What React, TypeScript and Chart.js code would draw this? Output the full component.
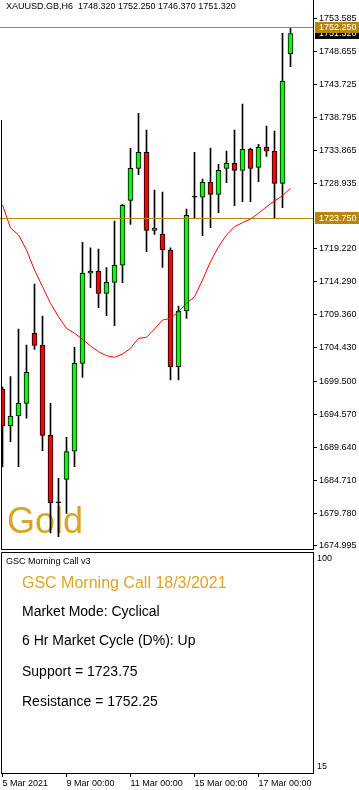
import React, { useEffect, useRef } from "react";
import { Chart, registerables } from "chart.js";

Chart.register(...registerables);

const FONT = "'Liberation Sans', Arial, sans-serif";

// ---- data ----
const symbolName = "XAUUSD.GB,H6";
const watermark = "Gold";
const opens = [1698.31, 1692.8, 1694.29, 1696.18, 1706.62, 1704.83, 1691.41, 1681.35, 1684.85, 1689.03, 1702.14, 1715.57, 1715.91, 1712.58, 1714.22, 1716.76, 1726.45, 1731.22, 1733.61, 1721.97, 1721.4, 1719.04, 1701.64, 1709.94, 1726.9, 1726.9, 1729.13, 1727.34, 1731.22, 1731.97, 1730.92, 1734.05, 1731.37, 1734.35, 1733.76, 1728.98, 1748.32];
const highs = [1698.6, 1700.15, 1707.26, 1704.87, 1713.97, 1709.2, 1696.18, 1684.99, 1691.11, 1704.53, 1720.19, 1719.38, 1719.19, 1716.4, 1723.36, 1725.85, 1734.2, 1739.42, 1736.93, 1727.98, 1727.69, 1719.38, 1710.69, 1725.15, 1733.61, 1729.62, 1734.25, 1731.82, 1733.8, 1736.93, 1740.81, 1734.25, 1734.8, 1737.53, 1736.78, 1751.35, 1752.25];
const lows = [1686.68, 1690.46, 1686.73, 1693.95, 1704.23, 1689.12, 1676.84, 1676.29, 1679.78, 1686.73, 1700.06, 1713.42, 1710.44, 1709.24, 1707.75, 1714.16, 1722.87, 1730.27, 1718.79, 1721.38, 1716.46, 1699.66, 1699.66, 1708.85, 1723.85, 1721.17, 1722.37, 1724.6, 1729.07, 1725.64, 1726.24, 1726.24, 1729.22, 1733.01, 1723.81, 1725.35, 1746.37];
const closes = [1692.8, 1694.29, 1696.18, 1700.8, 1704.83, 1691.41, 1681.36, 1681.35, 1688.97, 1702.14, 1715.57, 1715.91, 1712.58, 1714.22, 1716.76, 1725.7, 1731.22, 1733.61, 1721.97, 1722.31, 1719.04, 1701.64, 1709.94, 1724.21, 1726.9, 1729.13, 1727.34, 1730.92, 1731.97, 1730.92, 1734.05, 1731.22, 1734.35, 1733.76, 1728.98, 1744.19, 1751.32];
const movingAverage = [1725.75, 1722.32, 1721.28, 1719.04, 1716.06, 1713.57, 1711.09, 1709.09, 1707.36, 1706.62, 1705.73, 1704.73, 1703.88, 1703.28, 1703.04, 1703.53, 1704.38, 1705.87, 1706.02, 1707.26, 1708.6, 1708.85, 1709.84, 1711.09, 1712.07, 1714.57, 1717.3, 1719.53, 1721.28, 1722.51, 1723.11, 1723.66, 1724.51, 1725.49, 1726.35, 1727.14, 1728.24];

const supportLevel = 1723.75;
const resistanceLevel = 1752.25;

const priceTicks = [1753.585, 1748.655, 1743.725, 1738.795, 1733.865, 1728.935, 1719.22, 1714.29, 1709.36, 1704.43, 1699.5, 1694.57, 1689.64, 1684.71, 1679.78, 1674.995];
const priceMin = 1674.385;
const priceMax = 1756.314;

const timeTickIndex = [0, 8, 16, 24, 32];
const timeTickLabels = ["5 Mar 2021", "9 Mar 00:00", "11 Mar 00:00", "15 Mar 00:00", "17 Mar 00:00"];
const barMin = -0.1875;
const barMax = barMin + 39;

const indicatorTicks = [100, 15];
const indicatorMin = 12.55;
const indicatorMax = 102.66;

const panelName = "GSC Morning Call v3";
const panelTitle = "GSC Morning Call 18/3/2021";
const panelLines = [
  "Market Mode: Cyclical",
  "6 Hr Market Cycle (D%): Up",
  "Support = " + supportLevel.toFixed(2),
  "Resistance = " + resistanceLevel.toFixed(2),
];

const GOLD_LINE = "#B8860B";
const GOLD_TEXT = "#DAA520";

export default function App() {
  const topRef = useRef<HTMLCanvasElement | null>(null);
  const botRef = useRef<HTMLCanvasElement | null>(null);

  useEffect(() => {
    document.body.style.margin = "0";
    if (!topRef.current || !botRef.current) return;

    const last = opens.length - 1;
    const header = `${symbolName}  ${opens[last].toFixed(3)} ${highs[last].toFixed(3)} ${lows[last].toFixed(3)} ${closes[last].toFixed(3)}`;

    const topPlugin = {
      id: "topDeco",
      beforeDatasetsDraw(chart: any) {
        const ctx = chart.ctx;
        ctx.save();
        ctx.font = `36px ${FONT}`;
        ctx.fillStyle = GOLD_TEXT;
        ctx.textAlign = "left";
        ctx.textBaseline = "alphabetic";
        ctx.fillText(watermark, 7, 533);
        ctx.restore();
      },
      afterDatasetsDraw(chart: any) {
        const ctx = chart.ctx;
        const a = chart.chartArea;
        const ys = chart.scales.y;
        ctx.save();
        ctx.strokeStyle = GOLD_LINE;
        ctx.lineWidth = 1;
        [supportLevel, resistanceLevel].forEach((v) => {
          const py = Math.round(ys.getPixelForValue(v)) + 0.5;
          ctx.beginPath();
          ctx.moveTo(a.left - 1, py);
          ctx.lineTo(a.right, py);
          ctx.stroke();
        });
        ctx.strokeStyle = "#000";
        const bottom = Math.floor(a.bottom) + 0.5;
        ctx.beginPath();
        ctx.moveTo(1.5, 120);
        ctx.lineTo(1.5, bottom);
        ctx.lineTo(a.right, bottom);
        ctx.stroke();
        ctx.restore();
      },
      afterDraw(chart: any) {
        const ctx = chart.ctx;
        const a = chart.chartArea;
        const ys = chart.scales.y;
        ctx.save();
        ctx.font = `9px ${FONT}`;
        ctx.fillStyle = "#000";
        ctx.textAlign = "left";
        ctx.textBaseline = "middle";
        ctx.fillText(header, 6, 7);

        const box = (v: number, bg: string, h: number) => {
          const py = ys.getPixelForValue(v);
          ctx.fillStyle = bg;
          ctx.fillRect(a.right + 2, Math.round(py - h / 2), 359 - a.right - 2, h);
          ctx.fillStyle = "#fff";
          ctx.fillText(v.toFixed(3), a.right + 6, py);
        };
        box(closes[last], "#000", 11);
        box(resistanceLevel, GOLD_LINE, 11);
        box(supportLevel, GOLD_LINE, 12);
        ctx.restore();
      },
    };

    const topChart = new Chart(topRef.current, {
      type: "bar",
      data: {
        datasets: [
          {
            type: "line",
            label: "MA",
            data: movingAverage.map((v, i) => ({ x: i, y: v })),
            borderColor: "#ff0000",
            borderWidth: 1,
            pointRadius: 0,
            tension: 0,
          } as any,
          {
            type: "bar",
            label: "body",
            data: opens.map((o, i) => ({ x: i, y: [o, closes[i]] })),
            backgroundColor: opens.map((o, i) => (closes[i] > o ? "#00ff00" : closes[i] < o ? "#ff0000" : "#000000")),
            borderColor: "#000",
            borderWidth: 1,
            borderSkipped: false,
            barThickness: 5,
            minBarLength: 1,
            grouped: false,
          } as any,
          {
            type: "bar",
            label: "wick",
            data: lows.map((l, i) => ({ x: i, y: [l, highs[i]] })),
            backgroundColor: "#000",
            borderWidth: 0,
            barThickness: 1,
            grouped: false,
          } as any,
        ],
      },
      options: {
        responsive: false,
        animation: false,
        devicePixelRatio: 1,
        events: [],
        layout: { padding: { left: 1, top: 0, right: 0, bottom: 2.5 } },
        plugins: { legend: { display: false }, tooltip: { enabled: false } },
        scales: {
          x: { type: "linear", min: barMin, max: barMax, display: false, offset: false },
          y: {
            type: "linear",
            position: "right",
            min: priceMin,
            max: priceMax,
            afterBuildTicks: (s: any) => {
              s.ticks = priceTicks.map((v) => ({ value: v }));
            },
            afterFit: (s: any) => {
              s.width = 46;
              s.paddingTop = 0;
              s.paddingBottom = 0;
            },
            border: { display: true, color: "#000", width: 1 },
            grid: { drawOnChartArea: false, drawTicks: true, tickLength: 4, color: "#000" },
            ticks: {
              padding: 2,
              color: "#000",
              autoSkip: false,
              font: { family: FONT, size: 9 },
              callback: (v: any) => Number(v).toFixed(3),
            },
          },
        },
      } as any,
      plugins: [topPlugin as any],
    });

    const botPlugin = {
      id: "botDeco",
      afterDraw(chart: any) {
        const ctx = chart.ctx;
        const a = chart.chartArea;
        ctx.save();
        ctx.strokeStyle = "#000";
        ctx.lineWidth = 1;
        const t = Math.floor(a.top) + 0.5;
        ctx.beginPath();
        ctx.moveTo(a.right, t);
        ctx.lineTo(1.5, t);
        ctx.lineTo(1.5, a.bottom);
        ctx.stroke();

        ctx.textAlign = "left";
        ctx.textBaseline = "alphabetic";
        ctx.fillStyle = "#000";
        ctx.font = `9px ${FONT}`;
        ctx.fillText(panelName, 6, 13);

        ctx.font = `16px ${FONT}`;
        ctx.fillStyle = GOLD_TEXT;
        ctx.fillText(panelTitle, 22, 37);

        ctx.font = `14px ${FONT}`;
        ctx.fillStyle = "#000";
        const baselines = [65, 94, 124.5, 155];
        panelLines.forEach((s, i) => ctx.fillText(s, 22, baselines[i]));
        ctx.restore();
      },
    };

    const botChart = new Chart(botRef.current, {
      type: "line",
      data: { datasets: [{ label: "indicator", data: [] as any[], pointRadius: 0 }] },
      options: {
        responsive: false,
        animation: false,
        devicePixelRatio: 1,
        events: [],
        layout: { padding: { left: 1, top: 1.5, right: 0, bottom: 0 } },
        plugins: { legend: { display: false }, tooltip: { enabled: false } },
        scales: {
          x: {
            type: "linear",
            position: "bottom",
            min: barMin,
            max: barMax,
            offset: false,
            afterBuildTicks: (s: any) => {
              s.ticks = timeTickIndex.map((v) => ({ value: v }));
            },
            afterFit: (s: any) => {
              s.height = 17;
              s.paddingLeft = 0;
              s.paddingRight = 0;
            },
            border: { display: true, color: "#000", width: 1 },
            grid: { drawOnChartArea: false, drawTicks: true, tickLength: 4, color: "#000" },
            ticks: {
              align: "start",
              padding: 1,
              maxRotation: 0,
              autoSkip: false,
              color: "#000",
              font: { family: FONT, size: 9 },
              callback: (v: any) => {
                const i = timeTickIndex.indexOf(Number(v));
                return i >= 0 ? timeTickLabels[i] : "";
              },
            },
          },
          y: {
            type: "linear",
            position: "right",
            min: indicatorMin,
            max: indicatorMax,
            afterBuildTicks: (s: any) => {
              s.ticks = indicatorTicks.map((v) => ({ value: v }));
            },
            afterFit: (s: any) => {
              s.width = 46;
              s.paddingTop = 0;
              s.paddingBottom = 0;
            },
            border: { display: true, color: "#000", width: 1 },
            grid: { drawOnChartArea: false, drawTicks: false },
            ticks: {
              padding: 4,
              color: "#000",
              autoSkip: false,
              font: { family: FONT, size: 9 },
              callback: (v: any) => String(v),
            },
          },
        },
      } as any,
      plugins: [botPlugin as any],
    });

    return () => {
      topChart.destroy();
      botChart.destroy();
    };
  }, []);

  return (
    <div style={{ position: "relative", width: 359, height: 790, background: "#fff", overflow: "hidden" }}>
      <canvas ref={topRef} width={359} height={552} style={{ position: "absolute", left: 0, top: 0, width: 359, height: 552 }} />
      <canvas ref={botRef} width={359} height={239} style={{ position: "absolute", left: 0, top: 551, width: 359, height: 239 }} />
    </div>
  );
}
